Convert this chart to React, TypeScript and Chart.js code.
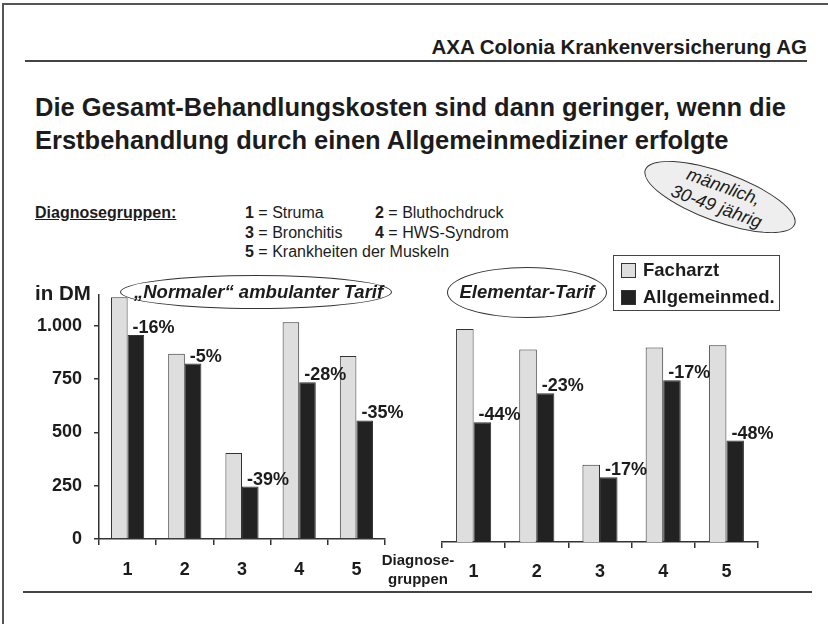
import React, { useEffect, useRef } from "react";
import { Chart, registerables } from "chart.js";

Chart.register(...registerables);

// ---------- data ----------
const groups = ["1", "2", "3", "4", "5"];
const normalFacharzt = [1135, 869, 404, 1017, 859];
const normalAllgemein = [957, 823, 246, 735, 556];
const normalPct = ["-16%", "-5%", "-39%", "-28%", "-35%"];
const elementarFacharzt = [1000, 903, 363, 913, 923];
const elementarAllgemein = [562, 698, 304, 759, 476];
const elementarPct = ["-44%", "-23%", "-17%", "-17%", "-48%"];
const yTickValues = [0, 250, 500, 750, 1000];
const yTickLabels = ["0", "250", "500", "750", "1.000"];
const seriesNames = ["Facharzt", "Allgemeinmed."];

const FONT = '"Liberation Sans", Arial, Helvetica, sans-serif';
const TEXT = "#1c1c1c";
const AXIS = "#333333";
const LIGHT = "#dedede";
const DARK = "#222222";
const Y_MAX = 1145;

const makePctPlugin = (labels: string[]) => ({
  id: "pctLabels",
  afterDatasetsDraw(chart: any) {
    const meta = chart.getDatasetMeta(1);
    const ctx = chart.ctx;
    ctx.save();
    ctx.font = `bold 18px ${FONT}`;
    ctx.fillStyle = TEXT;
    ctx.textBaseline = "middle";
    ctx.textAlign = "left";
    meta.data.forEach((bar: any, i: number) => {
      const p = bar.getProps(["x", "y", "width"], true);
      ctx.fillText(labels[i], p.x - p.width / 2 + 5, p.y - 7);
    });
    ctx.restore();
  },
});

function makeConfig(
  fach: number[],
  allg: number[],
  pct: string[],
  showY: boolean,
  padding: { top: number; left: number; right: number },
  xHeight: number,
  xPad: number,
  catPct: number
): any {
  const barCommon = {
    borderColor: AXIS,
    borderWidth: 1,
    categoryPercentage: catPct,
    barPercentage: 1,
  };
  return {
    type: "bar",
    data: {
      labels: groups,
      datasets: [
        { label: seriesNames[0], data: fach, backgroundColor: LIGHT, ...barCommon },
        { label: seriesNames[1], data: allg, backgroundColor: DARK, ...barCommon },
      ],
    },
    options: {
      responsive: false,
      animation: false,
      layout: { padding: { top: padding.top, left: padding.left, right: padding.right, bottom: 0 } },
      plugins: { legend: { display: false }, tooltip: { enabled: false } },
      scales: {
        x: {
          grid: {
            offset: true,
            drawOnChartArea: false,
            drawTicks: true,
            tickLength: 6,
            color: AXIS,
            lineWidth: 1.5,
          },
          border: { display: true, color: AXIS, width: 1.5 },
          ticks: { padding: xPad, color: TEXT, font: { family: FONT, size: 18, weight: "bold" } },
          afterFit: (s: any) => {
            s.height = xHeight;
            s.paddingLeft = 0;
            s.paddingRight = 0;
          },
        },
        y: {
          display: showY,
          min: 0,
          max: Y_MAX,
          afterBuildTicks: (s: any) => {
            s.ticks = yTickValues.map((v) => ({ value: v }));
          },
          ticks: {
            padding: 12,
            color: TEXT,
            font: { family: FONT, size: 18, weight: "bold" },
            callback: (_v: any, i: number) => yTickLabels[i],
          },
          grid: { drawOnChartArea: false, drawTicks: true, tickLength: 5, color: AXIS, lineWidth: 1.5 },
          border: { display: true, color: AXIS, width: 1.5 },
          afterFit: (s: any) => {
            s.width = showY ? 79 : 0;
            s.paddingTop = 0;
            s.paddingBottom = 0;
          },
        },
      },
    },
    plugins: [makePctPlugin(pct)],
  };
}

const abs = (o: React.CSSProperties): React.CSSProperties => ({ position: "absolute", ...o });

export default function App() {
  const leftRef = useRef<HTMLCanvasElement>(null);
  const rightRef = useRef<HTMLCanvasElement>(null);

  useEffect(() => {
    const c1 = new Chart(
      leftRef.current!,
      makeConfig(normalFacharzt, normalAllgemein, normalPct, true, { top: 15, left: 0, right: 55 }, 51, 14, 0.58)
    );
    const c2 = new Chart(
      rightRef.current!,
      makeConfig(elementarFacharzt, elementarAllgemein, elementarPct, false, { top: 18, left: 42, right: 70 }, 48, 13, 0.555)
    );
    return () => {
      c1.destroy();
      c2.destroy();
    };
  }, []);

  const txt: React.CSSProperties = { fontFamily: FONT, color: TEXT, whiteSpace: "nowrap" };

  return (
    <div style={{ position: "fixed", left: 0, top: 0, width: 828, height: 624, background: "#fff", overflow: "hidden" }}>
      {/* frame */}
      <div style={abs({ left: 2, top: 3, width: 840, height: 619, borderTop: "2px solid #555", borderLeft: "2px solid #555", borderBottom: "2px solid #777" })} />
      {/* header */}
      <div style={abs({ ...txt, right: 21, top: 37, fontSize: 20.5, lineHeight: "20px", fontWeight: "bold" })}>
        AXA Colonia Krankenversicherung AG
      </div>
      <div style={abs({ left: 25, top: 60, width: 782, height: 2, background: "#444" })} />
      {/* title */}
      <div style={abs({ ...txt, left: 35, top: 91, fontSize: 25.5, lineHeight: "33px", fontWeight: "bold" })}>
        Die Gesamt-Behandlungskosten sind dann geringer, wenn die
        <br />
        Erstbehandlung durch einen Allgemeinmediziner erfolgte
      </div>
      {/* diagnose groups */}
      <div style={abs({ ...txt, left: 35, top: 203, fontSize: 16, lineHeight: "20px", fontWeight: "bold", textDecoration: "underline" })}>
        Diagnosegruppen:
      </div>
      <div style={abs({ ...txt, left: 245, top: 203, fontSize: 16, lineHeight: "20px" })}>
        <b>1</b> = Struma
      </div>
      <div style={abs({ ...txt, left: 375, top: 203, fontSize: 16, lineHeight: "20px" })}>
        <b>2</b> = Bluthochdruck
      </div>
      <div style={abs({ ...txt, left: 245, top: 223, fontSize: 16, lineHeight: "20px" })}>
        <b>3</b> = Bronchitis
      </div>
      <div style={abs({ ...txt, left: 375, top: 223, fontSize: 16, lineHeight: "20px" })}>
        <b>4</b> = HWS-Syndrom
      </div>
      <div style={abs({ ...txt, left: 245, top: 242, fontSize: 16, lineHeight: "20px" })}>
        <b>5</b> = Krankheiten der Muskeln
      </div>
      {/* männlich ellipse */}
      <div
        style={abs({
          left: 640,
          top: 172,
          width: 160,
          height: 50,
          borderRadius: "50%",
          border: "1.5px solid #333",
          background: "#eeeeee",
          transform: "rotate(20deg)",
          boxSizing: "border-box",
        })}
      />
      <div
        style={abs({
          ...txt,
          left: 640,
          top: 172,
          width: 160,
          height: 50,
          transform: "rotate(20deg)",
          textAlign: "center",
          fontSize: 18,
          lineHeight: "21px",
          fontStyle: "italic",
          paddingTop: 4,
          boxSizing: "border-box",
        })}
      >
        männlich,
        <br />
        30-49 jährig
      </div>
      {/* canvases */}
      <canvas ref={leftRef} width={420} height={310} style={abs({ left: 20, top: 280, width: 420, height: 310 })} />
      <canvas ref={rightRef} width={428} height={310} style={abs({ left: 400, top: 280, width: 428, height: 310 })} />
      {/* in DM */}
      <div style={abs({ ...txt, left: 35, top: 281, fontSize: 20.5, lineHeight: "24px", fontWeight: "bold" })}>in DM</div>
      {/* Normaler ellipse */}
      <div
        style={abs({
          ...txt,
          left: 120,
          top: 275,
          width: 272,
          height: 34,
          borderRadius: "50%",
          border: "1.5px solid #333",
          boxSizing: "border-box",
          fontSize: 18.5,
          fontWeight: "bold",
          fontStyle: "italic",
          lineHeight: "31px",
          paddingLeft: 13,
        })}
      >
        „Normaler“ ambulanter Tarif
      </div>
      {/* Elementar ellipse */}
      <div
        style={abs({
          ...txt,
          left: 447,
          top: 267,
          width: 160,
          height: 51,
          borderRadius: "50%",
          border: "1.5px solid #333",
          boxSizing: "border-box",
          background: "#fff",
          fontSize: 18.5,
          fontWeight: "bold",
          fontStyle: "italic",
          lineHeight: "48px",
          textAlign: "center",
        })}
      >
        Elementar-Tarif
      </div>
      {/* legend */}
      <div style={abs({ left: 613, top: 255, width: 167, height: 56, border: "1.5px solid #444", boxSizing: "border-box", background: "#fff" })}>
        <div style={abs({ left: 7, top: 7, width: 15, height: 15, background: LIGHT, border: "1px solid #333", boxSizing: "border-box" })} />
        <div style={abs({ ...txt, left: 29, top: 3, fontSize: 18.5, lineHeight: "22px", fontWeight: "bold" })}>{seriesNames[0]}</div>
        <div style={abs({ left: 7, top: 34, width: 15, height: 15, background: DARK, border: "1px solid #333", boxSizing: "border-box" })} />
        <div style={abs({ ...txt, left: 29, top: 30, fontSize: 18.5, lineHeight: "22px", fontWeight: "bold" })}>{seriesNames[1]}</div>
      </div>
      {/* Diagnosegruppen axis title */}
      <div style={abs({ ...txt, left: 378, top: 550, width: 80, textAlign: "center", fontSize: 15, lineHeight: "19px", fontWeight: "bold" })}>
        Diagnose-
        <br />
        gruppen
      </div>
      {/* bottom rule */}
      <div style={abs({ left: 23, top: 591, width: 789, height: 2, background: "#444" })} />
    </div>
  );
}
